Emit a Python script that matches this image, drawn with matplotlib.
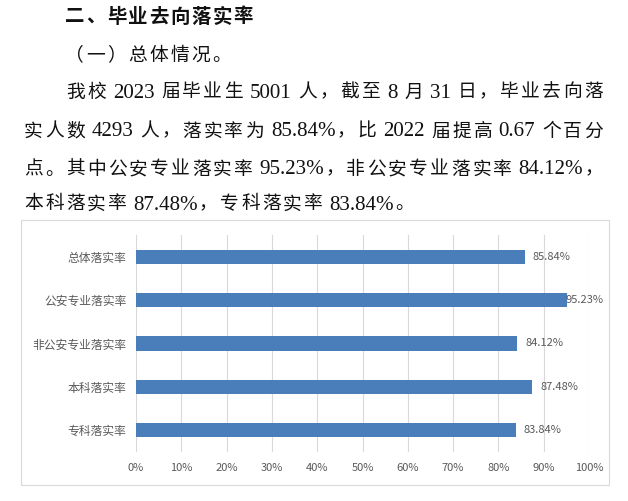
import re

import matplotlib
matplotlib.use("Agg")
import matplotlib.pyplot as plt
from matplotlib.patches import Rectangle

W, H = 628, 501

title = "二、毕业去向落实率"
heading = "（一）总体情况。"
para_lines = [
    "我校 2023 届毕业生 5001 人，截至 8 月 31 日，毕业去向落",
    "实人数 4293 人，落实率为 85.84%，比 2022 届提高 0.67 个百分",
    "点。其中公安专业落实率 95.23%，非公安专业落实率 84.12%，",
    "本科落实率 87.48%，专科落实率 83.84%。",
]

categories = ["总体落实率", "公安专业落实率", "非公安专业落实率", "本科落实率", "专科落实率"]
rates = [85.84, 95.23, 84.12, 87.48, 83.84]
xticks = [0, 10, 20, 30, 40, 50, 60, 70, 80, 90, 100]

plt.rcParams["font.family"] = ["Noto Sans CJK SC", "DejaVu Sans"]


def fx(x):
    return x / W


def fy(y):
    return 1 - y / H


def draw_line(fig, renderer, s, x0, y_mid, pitch=21.0, right=None,
              cjk_size=13.5, weight="normal"):
    # CJK chars sit in fixed-width cells, latin runs use Times-like metrics
    items = []
    for tok in re.findall(r"[ -~]+|.", s):
        if tok.isascii():
            lead = len(tok) - len(tok.lstrip(" "))
            trail = len(tok) - len(tok.rstrip(" "))
            word = tok.strip(" ")
            for _ in range(lead):
                items.append((None, pitch * 0.25))
            if word:
                t = fig.text(0, 0, word, family="Liberation Serif",
                             fontsize=pitch / 100 * 72, color="#111111",
                             ha="left", va="baseline", weight=weight)
                w = t.get_window_extent(renderer).width
                items.append((t, w))
            for _ in range(trail):
                items.append((None, pitch * 0.25))
        else:
            t = fig.text(0, 0, tok, fontsize=cjk_size, color="#111111",
                         ha="center", va="center", weight=weight)
            items.append((t, pitch))

    total = sum(w for _, w in items)
    extra = 0.0
    if right is not None and len(items) > 1:
        extra = (right - x0 - total) / (len(items) - 1)

    x = x0
    for t, w in items:
        if t is not None:
            if t.get_ha() == "center":
                t.set_position((fx(x + w / 2), fy(y_mid)))
            else:
                t.set_position((fx(x), fy(y_mid + 5.5)))
        x += w + extra


fig = plt.figure(figsize=(W / 100, H / 100), dpi=100)
fig.patch.set_facecolor("white")
renderer = fig.canvas.get_renderer()

draw_line(fig, renderer, title, 64, 17, pitch=21.1, cjk_size=14, weight="bold")
draw_line(fig, renderer, heading, 64, 55)
line_y = [92, 131, 169, 204]
for i, (line, y) in enumerate(zip(para_lines, line_y)):
    x0 = 65 if i == 0 else 23
    right = 604 if i < len(para_lines) - 1 else None
    draw_line(fig, renderer, line, x0, y, right=right)

# chart frame
fig.add_artist(Rectangle((fx(21), fy(485)), 588 / W, 265 / H,
                         transform=fig.transFigure, fill=False,
                         edgecolor="#d9d9d9", lw=0.8))

ax = fig.add_axes([fx(136), fy(452), 453 / W, 217 / H])
ypos = list(range(len(categories)))
ax.barh(ypos, rates, height=0.33, color="#4a7ebb", zorder=3)
ax.set_xlim(0, 100)
ax.set_ylim(len(categories) - 0.5, -0.5)
ax.set_xticks(xticks)
ax.set_xticklabels([f"{t}%" for t in xticks])
ax.set_yticks(ypos)
ax.set_yticklabels(categories)
ax.tick_params(length=0, colors="#595959")
ax.tick_params(axis="x", labelsize=8, pad=8)
ax.tick_params(axis="y", labelsize=8.5, pad=7)
ax.grid(axis="x", color="#d9d9d9", lw=0.8, zorder=0)
ax.set_axisbelow(True)
for sp in ax.spines.values():
    sp.set_visible(False)

limit_px = 603
for i, v in enumerate(rates):
    a = ax.annotate(f"{v:.2f}%", xy=(v, i), xytext=(8, 0),
                    textcoords="offset pixels", va="center", ha="left",
                    fontsize=8, color="#595959", annotation_clip=False)
    bb = a.get_window_extent(renderer)
    if bb.x1 > limit_px:
        a.set_position((8 - (bb.x1 - limit_px), 0))

fig.savefig("out.png", dpi=100, facecolor="white")
